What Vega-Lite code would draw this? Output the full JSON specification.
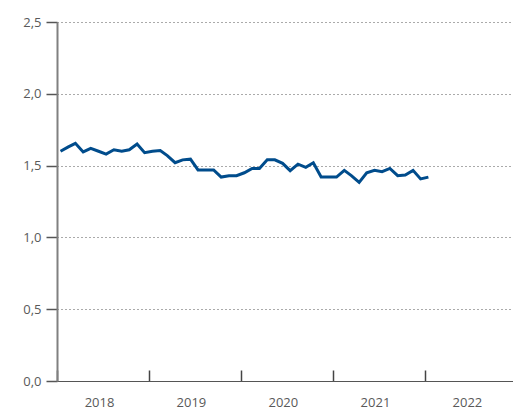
{
  "$schema": "https://vega.github.io/schema/vega-lite/v6.json",
  "autosize": "none",
  "width": 456,
  "height": 359,
  "padding": {"left": 57, "top": 22, "right": 0, "bottom": 29},
  "background": "white",
  "config": {
    "view": {"stroke": null},
    "font": "Open Sans"
  },
  "data": {
    "values": [
      {"date": "2018-01-15", "value": 1.60},
      {"date": "2018-02-15", "value": 1.63},
      {"date": "2018-03-15", "value": 1.655},
      {"date": "2018-04-15", "value": 1.595},
      {"date": "2018-05-15", "value": 1.62},
      {"date": "2018-06-15", "value": 1.60},
      {"date": "2018-07-15", "value": 1.58},
      {"date": "2018-08-15", "value": 1.61},
      {"date": "2018-09-15", "value": 1.60},
      {"date": "2018-10-15", "value": 1.61},
      {"date": "2018-11-15", "value": 1.65},
      {"date": "2018-12-15", "value": 1.59},
      {"date": "2019-01-15", "value": 1.60},
      {"date": "2019-02-15", "value": 1.605},
      {"date": "2019-03-15", "value": 1.57},
      {"date": "2019-04-15", "value": 1.52},
      {"date": "2019-05-15", "value": 1.54},
      {"date": "2019-06-15", "value": 1.545},
      {"date": "2019-07-15", "value": 1.47},
      {"date": "2019-08-15", "value": 1.47},
      {"date": "2019-09-15", "value": 1.47},
      {"date": "2019-10-15", "value": 1.42},
      {"date": "2019-11-15", "value": 1.43},
      {"date": "2019-12-15", "value": 1.43},
      {"date": "2020-01-15", "value": 1.45},
      {"date": "2020-02-15", "value": 1.48},
      {"date": "2020-03-15", "value": 1.48},
      {"date": "2020-04-15", "value": 1.54},
      {"date": "2020-05-15", "value": 1.54},
      {"date": "2020-06-15", "value": 1.516},
      {"date": "2020-07-15", "value": 1.465},
      {"date": "2020-08-15", "value": 1.51},
      {"date": "2020-09-15", "value": 1.488},
      {"date": "2020-10-15", "value": 1.52},
      {"date": "2020-11-15", "value": 1.42},
      {"date": "2020-12-15", "value": 1.42},
      {"date": "2021-01-15", "value": 1.42},
      {"date": "2021-02-15", "value": 1.467},
      {"date": "2021-03-15", "value": 1.43},
      {"date": "2021-04-15", "value": 1.383},
      {"date": "2021-05-15", "value": 1.45},
      {"date": "2021-06-15", "value": 1.467},
      {"date": "2021-07-15", "value": 1.458},
      {"date": "2021-08-15", "value": 1.48},
      {"date": "2021-09-15", "value": 1.43},
      {"date": "2021-10-15", "value": 1.435},
      {"date": "2021-11-15", "value": 1.467},
      {"date": "2021-12-15", "value": 1.407},
      {"date": "2022-01-15", "value": 1.42}
    ]
  },
  "mark": {"type": "line", "color": "#004c8c", "strokeWidth": 3, "strokeJoin": "miter"},
  "encoding": {
    "x": {
      "field": "date",
      "type": "temporal",
      "scale": {
        "type": "utc",
        "domain": [
          {"year": 2018, "month": 1, "date": 1, "utc": true},
          {"year": 2022, "month": 12, "date": 17, "utc": true}
        ]
      },
      "axis": {
        "title": null,
        "values": [
          {"year": 2018, "month": 1, "date": 1, "utc": true},
          {"year": 2019, "month": 1, "date": 1, "utc": true},
          {"year": 2020, "month": 1, "date": 1, "utc": true},
          {"year": 2021, "month": 1, "date": 1, "utc": true},
          {"year": 2022, "month": 1, "date": 1, "utc": true}
        ],
        "labelExpr": "utcFormat(datum.value, '%Y')",
        "labelOffset": 42,
        "labelFlush": false,
        "labelOverlap": false,
        "labelBaseline": "top",
        "labelPadding": 26,
        "labelFontSize": 13,
        "labelColor": "#595959",
        "tickSize": -11,
        "tickColor": "#444444",
        "tickWidth": 1.5,
        "domainColor": "#555555",
        "domainWidth": 1.2,
        "grid": false
      }
    },
    "y": {
      "field": "value",
      "type": "quantitative",
      "scale": {"domain": [0, 2.5], "nice": false, "zero": true},
      "axis": {
        "title": null,
        "values": [0, 0.5, 1, 1.5, 2, 2.5],
        "labelExpr": "replace(format(datum.value, '.1f'), '.', ',')",
        "labelFontSize": 13,
        "labelColor": "#595959",
        "labelPadding": 5,
        "tickSize": 11,
        "tickColor": "#555555",
        "tickWidth": 1.5,
        "domainColor": "#808080",
        "domainWidth": 2,
        "grid": true,
        "gridColor": "#555555",
        "gridDash": [1, 3],
        "gridWidth": 1
      }
    }
  }
}
